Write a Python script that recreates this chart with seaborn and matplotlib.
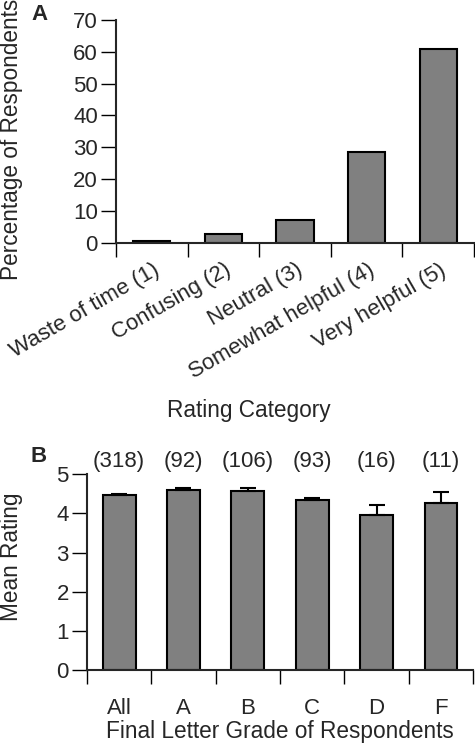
import numpy as np
import pandas as pd
import matplotlib
matplotlib.use("Agg")
import matplotlib.pyplot as plt
import matplotlib.transforms as mtransforms
from matplotlib.ticker import FixedLocator
import seaborn as sns

# Panel A data
rating_labels = ["Waste of time (1)", "Confusing (2)", "Neutral (3)",
                 "Somewhat helpful (4)", "Very helpful (5)"]
rating_pct = [0.7, 2.8, 7.2, 28.6, 60.8]

# Panel B data
grades = ["All", "A", "B", "C", "D", "F"]
mean_rating = [4.46, 4.60, 4.57, 4.34, 3.95, 4.28]
rating_err = [0.05, 0.06, 0.07, 0.06, 0.27, 0.27]
n_resp = ["(318)", "(92)", "(106)", "(93)", "(16)", "(11)"]

sns.set_style("ticks")
plt.rcParams['font.family'] = ['Liberation Sans', 'DejaVu Sans']

TICK_FS = 16
LABEL_FS = 16.3

fig = plt.figure(figsize=(4.75, 7.47), dpi=100)
axA = fig.add_axes([0.244, 0.675, 0.754, 0.2985])
axB = fig.add_axes([0.183, 0.103, 0.813, 0.262])

dfA = pd.DataFrame({"cat": rating_labels, "pct": rating_pct})
sns.barplot(data=dfA, x="cat", y="pct", ax=axA, color="#808080", saturation=1,
            width=0.52, edgecolor="black", linewidth=1.5)

dfB = pd.DataFrame({"grade": grades, "mean": mean_rating})
sns.barplot(data=dfB, x="grade", y="mean", ax=axB, color="#808080", saturation=1,
            width=0.51, edgecolor="black", linewidth=1.5)
axB.errorbar(np.arange(len(grades)), mean_rating,
             yerr=[np.zeros(len(grades)), rating_err],
             fmt="none", ecolor="black", elinewidth=1.5, capsize=6, capthick=1.5)

for ax, n, top in [(axA, len(rating_labels), 70), (axB, len(grades), 5)]:
    sns.despine(ax=ax)
    ax.set_xlim(-0.5, n - 0.5)
    ax.set_ylim(0, top)
    ax.spines["left"].set_linewidth(1.5)
    ax.spines["bottom"].set_linewidth(1.5)
    ax.xaxis.set_minor_locator(FixedLocator(np.arange(n + 1) - 0.5))
    ax.tick_params(axis="x", which="major", length=0)
    ax.tick_params(axis="x", which="minor", length=10, width=1, color="black")
    ax.tick_params(axis="y", length=11, width=1, color="black", labelsize=TICK_FS, pad=2)

axA.set_yticks(range(0, 71, 10))
axA.set_xticks(range(len(rating_labels)))
axA.set_xticklabels(rating_labels, rotation=30, ha="right", rotation_mode="anchor",
                    fontsize=TICK_FS)
axA.tick_params(axis="x", which="major", pad=12)
shift = mtransforms.ScaledTranslation(1 / 100, 0, fig.dpi_scale_trans)
for lab in axA.get_xticklabels():
    lab.set_transform(lab.get_transform() + shift)
axA.set_xlabel("Rating Category", fontsize=LABEL_FS)
axA.xaxis.set_label_coords(0.37, -0.70)
axA.set_ylabel("Percentage of Respondents", fontsize=LABEL_FS)
axA.yaxis.set_label_coords(-0.26, 0.462)

axB.set_yticks(range(0, 6))
axB.set_xticklabels(grades, fontsize=TICK_FS)
axB.tick_params(axis="x", which="major", pad=20)
axB.set_xlabel("Final Letter Grade of Respondents", fontsize=LABEL_FS, labelpad=1)
axB.set_ylabel("Mean Rating", fontsize=LABEL_FS)
axB.yaxis.set_label_coords(-0.166, 0.58)

for i, lab in enumerate(n_resp):
    axB.text(i, 5.33, lab, ha="center", va="center", fontsize=TICK_FS, clip_on=False)

fig.text(39 / 475, 1 - 15 / 747, "A", fontsize=16, fontweight="bold", ha="center", va="center")
fig.text(39 / 475, 1 - 457 / 747, "B", fontsize=16, fontweight="bold", ha="center", va="center")

fig.savefig("out.png", dpi=100)
